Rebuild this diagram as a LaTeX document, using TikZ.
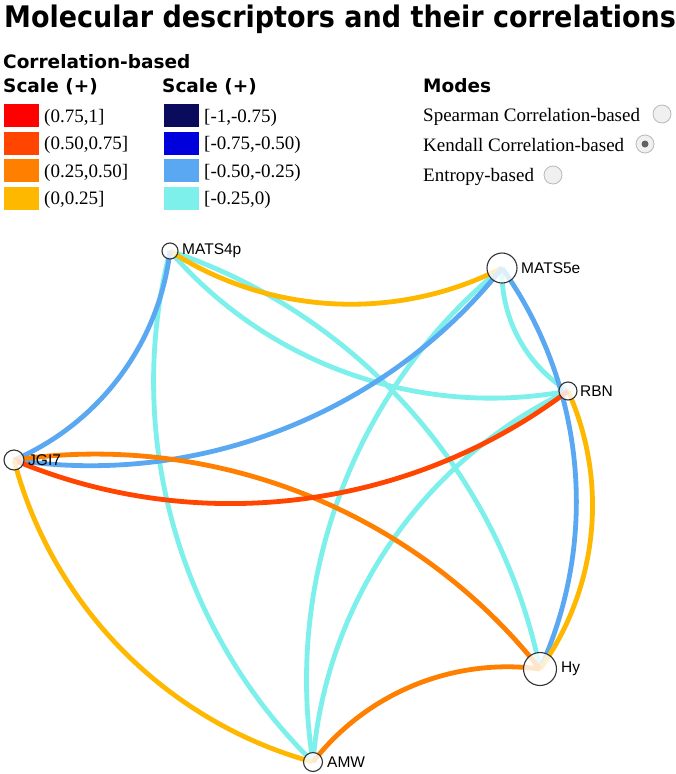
\documentclass[tikz,border=0pt]{standalone}
\usepackage{fontspec}
\setmainfont{Liberation Serif}
\setsansfont{Liberation Sans}
\newfontfamily\vfont{DejaVu Sans}
\usetikzlibrary{backgrounds}
\definecolor{cRed}{HTML}{FF0000}
\definecolor{cOR}{HTML}{FF4500}
\definecolor{cOr}{HTML}{FF8000}
\definecolor{cYe}{HTML}{FFB800}
\definecolor{cNavy}{HTML}{0B0B5E}
\definecolor{cBlue}{HTML}{0000DD}
\definecolor{cLb}{HTML}{5AA8F2}
\definecolor{cCy}{HTML}{7DF0EC}
\tikzset{
 edge/.style={line width=4.8pt},
 bl/.style={bend left=30, looseness=0.91},
 br/.style={bend right=30, looseness=0.91},
 vtx/.style={circle, draw=black!80, line width=1.1pt, fill=white, fill opacity=0.8, text opacity=1, inner sep=0pt},
 vlbl/.style={anchor=west, inner sep=0pt, font=\sffamily\fontsize{15.5}{18}\selectfont},
 swatch/.style={minimum width=35pt, minimum height=23pt, inner sep=0pt, anchor=north west},
 legtxt/.style={anchor=base west, inner sep=0pt, font=\fontsize{19}{22}\selectfont},
 hdr/.style={anchor=base west, inner sep=0pt, font=\vfont\bfseries\fontsize{18.5}{22}\selectfont},
 radio/.style={circle, minimum size=18pt, inner sep=0pt, draw=gray!55, line width=0.8pt, fill=gray!12},
}
\begin{document}
\begin{tikzpicture}[x=1pt,y=1pt]
\begin{pgfonlayer}{background}
\fill[white] (0,0) rectangle (675,-774);
\end{pgfonlayer}
\useasboundingbox (0,0) rectangle (675,-774);
% title
\node[anchor=base west, inner sep=0pt, yscale=1.1, transform shape, font=\vfont\bfseries\fontsize{27}{30}\selectfont] (title) at (4,-27) {Molecular descriptors and their correlations};
% legend headers
\node[hdr] (h1) at (3,-68) {Correlation-based};
\node[hdr] (h2) at (3,-92) {Scale (+)};
\node[hdr] (h3) at (162,-92) {Scale (+)};
\node[hdr] (h4) at (423,-92) {Modes};
% swatches
\node[swatch, fill=cRed] (s1) at (4,-104) {};
\node[swatch, fill=cOR] (s2) at (4,-131.5) {};
\node[swatch, fill=cOr] (s3) at (4,-159) {};
\node[swatch, fill=cYe] (s4) at (4,-186.5) {};
\node[swatch, fill=cNavy] (s5) at (164,-104) {};
\node[swatch, fill=cBlue] (s6) at (164,-131.5) {};
\node[swatch, fill=cLb] (s7) at (164,-159) {};
\node[swatch, fill=cCy] (s8) at (164,-186.5) {};
\node[legtxt] (t1) at (44,-122) {(0.75,1]};
\node[legtxt] (t2) at (44,-149.5) {(0.50,0.75]};
\node[legtxt] (t3) at (44,-177) {(0.25,0.50]};
\node[legtxt] (t4) at (44,-204.5) {(0,0.25]};
\node[legtxt] (t5) at (204,-122) {[-1,-0.75)};
\node[legtxt] (t6) at (204,-149.5) {[-0.75,-0.50)};
\node[legtxt] (t7) at (204,-177) {[-0.50,-0.25)};
\node[legtxt] (t8) at (204,-204.5) {[-0.25,0)};
% modes
\node[legtxt] (m1) at (423,-121) {Spearman Correlation-based};
\node[legtxt] (m2) at (423,-151) {Kendall Correlation-based};
\node[legtxt] (m3) at (423,-181) {Entropy-based};
\node[radio] (r1) at (662,-114) {};
\node[radio] (r2) at (645,-144) {};
\node[radio] (r3) at (553,-175) {};
\node[circle, fill=gray!35!black!75, minimum size=7pt, inner sep=0pt] (r2dot) at (r2.center) {};
% graph nodes
\node[vtx, minimum size=16pt] (MATS4p) at (170,-251) {};
\node[vtx, minimum size=30pt] (MATS5e) at (502,-268) {};
\node[vtx, minimum size=18pt] (RBN) at (568,-391) {};
\node[vtx, minimum size=20pt] (JGI7) at (14,-460) {};
\node[vtx, minimum size=33pt] (Hy) at (540,-669) {};
\node[vtx, minimum size=19pt] (AMW) at (313,-762) {};
\node[vlbl] (lMATS4p) at (182,-251) {MATS4p};
\node[vlbl] (lMATS5e) at (521,-268) {MATS5e};
\node[vlbl] (lRBN) at (580,-391) {RBN};
\node[vlbl] (lJGI7) at (28,-460) {JGI7};
\node[vlbl] (lHy) at (561,-669) {Hy};
\node[vlbl] (lAMW) at (327,-762) {AMW};
% edges
\begin{pgfonlayer}{background}
\draw[edge, cCy] (MATS4p.center) to[br] (AMW.center);
\draw[edge, cCy] (MATS4p.center) to[br] (RBN.center);
\draw[edge, cCy] (MATS4p.center) to[bl] (Hy.center);
\draw[edge, cCy] (MATS5e.center) to[br] (AMW.center);
\draw[edge, cCy] (MATS5e.center) to[br] (RBN.center);
\draw[edge, cCy] (RBN.center) to[br] (AMW.center);
\draw[edge, cYe] (MATS4p.center) to[br] (MATS5e.center);
\draw[edge, cLb] (MATS4p.center) to[bl] (JGI7.center);
\draw[edge, cLb] (MATS5e.center) to[bl] (JGI7.center);
\draw[edge, cLb] (MATS5e.center) to[bl] (Hy.center);
\draw[edge, cYe] (RBN.center) to[bl] (Hy.center);
\draw[edge, cOr] (JGI7.center) to[bl] (Hy.center);
\draw[edge, cOR] (RBN.center) to[bl] (JGI7.center);
\draw[edge, cYe] (JGI7.center) to[br] (AMW.center);
\draw[edge, cOr] (Hy.center) to[br] (AMW.center);
\end{pgfonlayer}
\end{tikzpicture}
\end{document}
